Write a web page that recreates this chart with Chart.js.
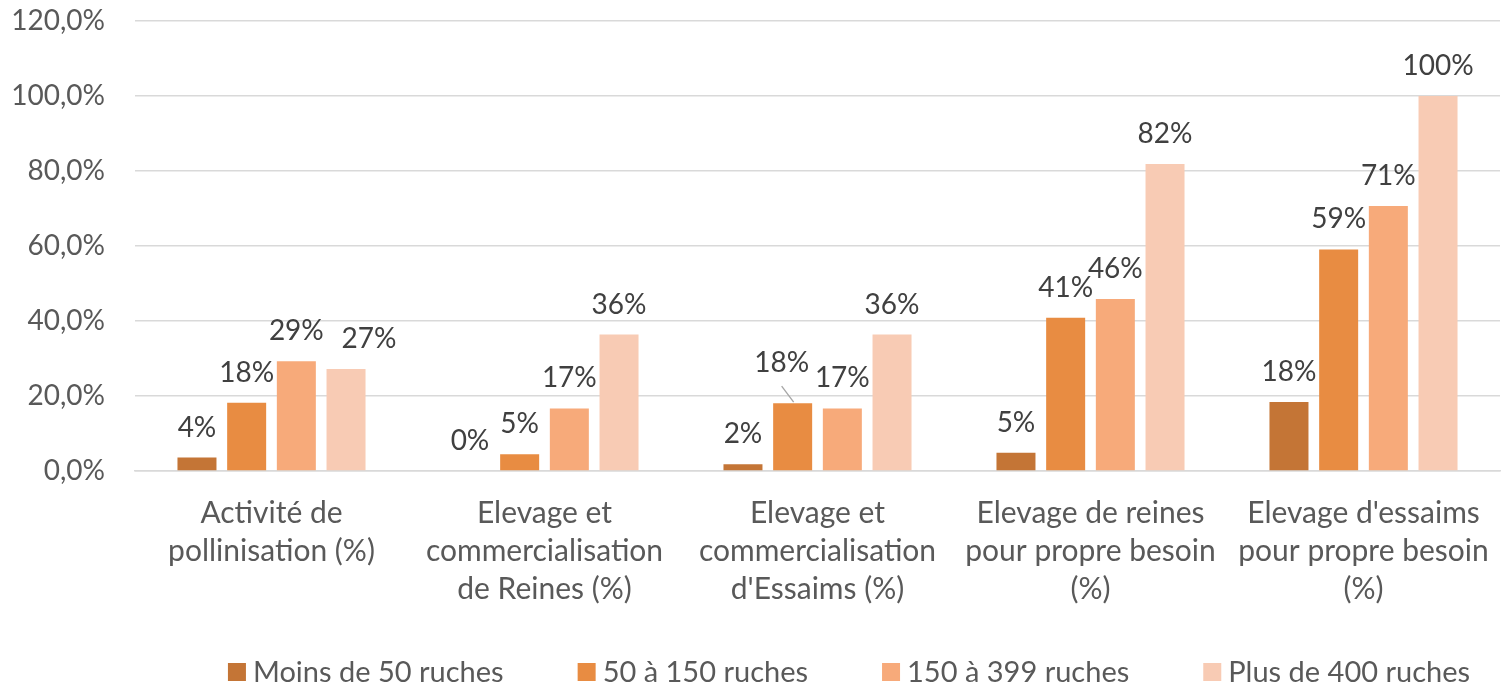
<!DOCTYPE html>
<html>
<head>
<meta charset="utf-8">
<script src="https://cdn.jsdelivr.net/npm/chart.js@4"></script>
<style>
  html, body { margin: 0; padding: 0; background: #fff; }
  #wrap { width: 1503px; height: 686px; }
</style>
</head>
<body>
<div id="wrap"><canvas id="c" width="1503" height="686"></canvas></div>
<script>
const categories = [
  ["Activité de", "pollinisation (%)"],
  ["Elevage et", "commercialisation", "de Reines (%)"],
  ["Elevage et", "commercialisation", "d'Essaims (%)"],
  ["Elevage de reines", "pour propre besoin", "(%)"],
  ["Elevage d'essaims", "pour propre besoin", "(%)"]
];
const seriesNames = ["Moins de 50 ruches", "50 à 150 ruches", "150 à 399 ruches", "Plus de 400 ruches"];
const moins50 = [3.6, 0, 1.8, 4.9, 18.4];
const de50a150 = [18.2, 4.5, 18.1, 40.9, 59.1];
const de150a399 = [29.3, 16.7, 16.7, 45.9, 70.7];
const plus400 = [27.2, 36.4, 36.4, 81.9, 100];
const yTicks = [0, 20, 40, 60, 80, 100, 120];

const colors = ['#C47536', '#E88C42', '#F7AA7A', '#F8CBB4'];
const FONT = 'Lato, "Open Sans", sans-serif';

// moved labels (dataset index, point index), optional leader line
const labelMoves = [
  {ds: 1, idx: 2, dx: -11, dy: -10, leader: true},
  {ds: 3, idx: 0, dx: 23, dy: 0, leader: false}
];

const dataLabels = {
  id: 'dataLabels',
  afterDatasetsDraw(chart) {
    const ctx = chart.ctx;
    ctx.save();
    ctx.font = '28px ' + FONT;
    ctx.fillStyle = '#404040';
    ctx.textAlign = 'center';
    ctx.textBaseline = 'middle';
    chart.data.datasets.forEach((ds, di) => {
      const meta = chart.getDatasetMeta(di);
      meta.data.forEach((bar, i) => {
        const v = ds.data[i];
        let x = bar.x, y = bar.y - 30;
        const mv = labelMoves.find(m => m.ds === di && m.idx === i);
        if (mv) {
          x += mv.dx; y += mv.dy;
          if (mv.leader) {
            ctx.save();
            ctx.strokeStyle = '#A6A6A6';
            ctx.lineWidth = 1.3;
            ctx.beginPath();
            ctx.moveTo(x, y + 23);
            ctx.lineTo(bar.x + 1, bar.y - 1);
            ctx.stroke();
            ctx.restore();
          }
        }
        ctx.fillText(Math.round(v) + '%', x, y);
      });
    });
    ctx.restore();
  }
};

const customLegend = {
  id: 'customLegend',
  afterDraw(chart) {
    const ctx = chart.ctx;
    ctx.save();
    ctx.font = '29px ' + FONT;
    ctx.textBaseline = 'middle';
    ctx.textAlign = 'left';
    const box = 18, gapText = 7, gapItem = 74;
    const items = chart.data.datasets.map(d => ({text: d.label, color: d.backgroundColor, w: ctx.measureText(d.label).width}));
    let total = 0;
    items.forEach((it, i) => { total += box + gapText + it.w + (i < items.length - 1 ? gapItem : 0); });
    let x = 849 - total / 2;
    const yc = 672;
    items.forEach(it => {
      ctx.fillStyle = it.color;
      ctx.fillRect(x, yc - box / 2, box, box);
      ctx.fillStyle = '#595959';
      ctx.fillText(it.text, x + box + gapText, yc + 1);
      x += box + gapText + it.w + gapItem;
    });
    ctx.restore();
  }
};

const seriesData = [moins50, de50a150, de150a399, plus400];

new Chart(document.getElementById('c'), {
  type: 'bar',
  data: {
    labels: categories,
    datasets: seriesNames.map((n, i) => ({
      label: n,
      data: seriesData[i],
      backgroundColor: colors[i],
      borderWidth: 0,
      categoryPercentage: 0.728,
      barPercentage: 0.785
    }))
  },
  options: {
    responsive: false,
    animation: false,
    layout: { padding: { top: 21, right: 3, left: 0, bottom: 0 } },
    plugins: { legend: { display: false }, tooltip: { enabled: false } },
    scales: {
      x: {
        grid: { display: false, drawTicks: false },
        border: { display: true, color: '#D9D9D9', width: 1.5 },
        ticks: { color: '#595959', font: { family: FONT, size: 30, lineHeight: 1.27 }, padding: 23, maxRotation: 0, autoSkip: false },
        afterFit(scale) { scale.height = 215; scale.paddingLeft = 0; scale.paddingRight = 0; }
      },
      y: {
        min: 0, max: 120,
        afterBuildTicks(scale) { scale.ticks = yTicks.map(v => ({value: v})); },
        grid: { color: '#D9D9D9', lineWidth: 1.5, drawTicks: false },
        border: { display: false },
        ticks: {
          color: '#595959', font: { family: FONT, size: 28 }, padding: 30,
          callback: v => v.toFixed(1).replace('.', ',') + '%'
        },
        afterFit(scale) { scale.width = 135; scale.paddingTop = 0; scale.paddingBottom = 0; }
      }
    }
  },
  plugins: [dataLabels, customLegend]
});
</script>
</body>
</html>
